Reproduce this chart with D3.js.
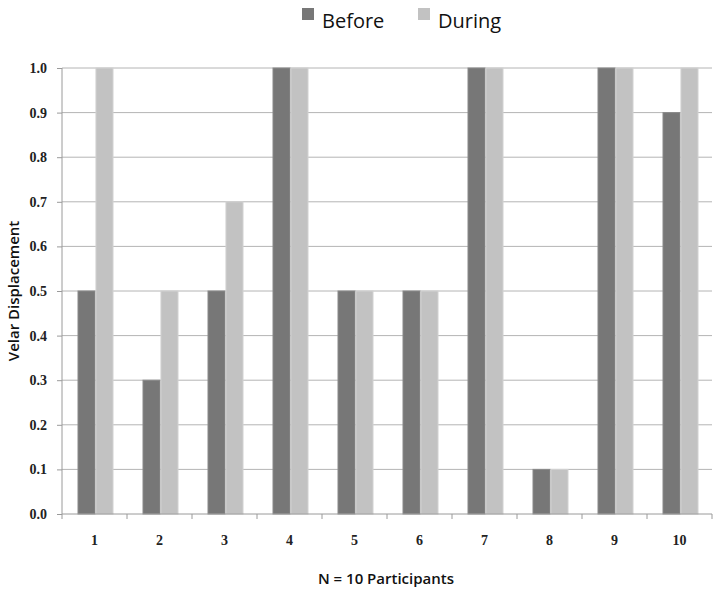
<!DOCTYPE html>
<html>
<head>
<meta charset="utf-8">
<script src="https://cdn.jsdelivr.net/npm/d3@7"></script>
<style>
  body { margin: 0; background: #fff; }
  .tick text { font-family: "Liberation Serif", serif; font-weight: bold; font-size: 14px; fill: #222; }
</style>
</head>
<body>
<script>
var participants = ["1", "2", "3", "4", "5", "6", "7", "8", "9", "10"];
var before = [0.5, 0.3, 0.5, 1.0, 0.5, 0.5, 1.0, 0.1, 1.0, 0.9];
var during = [1.0, 0.5, 0.7, 1.0, 0.5, 0.5, 1.0, 0.1, 1.0, 1.0];
var seriesNames = ["Before", "During"];
var yTicks = [0, 0.1, 0.2, 0.3, 0.4, 0.5, 0.6, 0.7, 0.8, 0.9, 1.0];

var colors = ["#777777", "#c2c2c2"];

var margin = { top: 68, right: 5, bottom: 82, left: 62 },
  width = 717 - margin.left - margin.right,
  height = 596 - margin.top - margin.bottom;

var svg = d3.select("body").append("svg")
  .attr("width", 717)
  .attr("height", 596);

var content = svg.append("g")
  .attr("transform", "translate(" + margin.left + "," + margin.top + ")");

var x = d3.scaleBand().domain(participants).range([0, width]);
var xInner = d3.scaleBand().domain(seriesNames).range([16, 51]).paddingInner(0.05);
var y = d3.scaleLinear().domain([0, 1]).range([height, 0]);

// grid
content.append("g")
  .selectAll("line")
  .data(yTicks.slice(1))
  .enter()
  .append("line")
  .attr("x1", 0)
  .attr("x2", width)
  .attr("y1", function (d) { return y(d); })
  .attr("y2", function (d) { return y(d); })
  .attr("stroke", "#b4b4b4")
  .attr("stroke-width", 1);

var rows = participants.map(function (p, i) {
  return { p: p, values: [before[i], during[i]] };
});

var groups = content.selectAll(".grp")
  .data(rows)
  .enter()
  .append("g")
  .attr("transform", function (d) { return "translate(" + x(d.p) + ",0)"; });

groups.selectAll("rect")
  .data(function (d) {
    return d.values.map(function (v, j) { return { name: seriesNames[j], v: v, j: j }; });
  })
  .enter()
  .append("rect")
  .attr("x", function (d) { return xInner(d.name); })
  .attr("y", function (d) { return y(d.v); })
  .attr("width", xInner.bandwidth())
  .attr("height", function (d) { return height - y(d.v); })
  .attr("fill", function (d) { return colors[d.j]; })
  .attr("stroke", function (d) { return d.j == 0 ? "#8a8a8a" : "#d2d2d2"; })
  .attr("stroke-width", 1);

// y axis
var yAxis = d3.axisLeft(y).tickValues(yTicks).tickSize(5).tickPadding(10)
  .tickFormat(d3.format(".1f"));
var yg = content.append("g").call(yAxis);
yg.select(".domain").attr("stroke", "#9a9a9a").attr("d", "M0," + height + "V0");
yg.selectAll(".tick line").attr("stroke", "#9a9a9a");

// x axis
var xAxis = d3.axisBottom(x).tickSize(0).tickPadding(21);
var xg = content.append("g")
  .attr("transform", "translate(0," + height + ")")
  .call(xAxis);
xg.select(".domain").attr("stroke", "#9a9a9a").attr("d", "M0,0H" + width);
xg.selectAll(".bound")
  .data(participants)
  .enter()
  .append("line")
  .attr("x1", function (d) { return x(d) + x.bandwidth(); })
  .attr("x2", function (d) { return x(d) + x.bandwidth(); })
  .attr("y1", 0)
  .attr("y2", 5)
  .attr("stroke", "#9a9a9a");
xg.append("line").attr("x1", 0).attr("x2", 0).attr("y1", 0).attr("y2", 5).attr("stroke", "#9a9a9a");

// titles
svg.append("text")
  .attr("transform", "translate(19," + (margin.top + height / 2) + ") rotate(-90)")
  .attr("text-anchor", "middle")
  .style("font-family", "'Open Sans', sans-serif")
  .style("font-weight", "600")
  .style("font-size", "15px")
  .attr("fill", "#111")
  .text("Velar Displacement");

svg.append("text")
  .attr("x", 386)
  .attr("y", 584)
  .attr("text-anchor", "middle")
  .style("font-family", "'Open Sans', sans-serif")
  .style("font-weight", "600")
  .style("font-size", "15px")
  .attr("fill", "#111")
  .text("N = 10 Participants");

// legend
var legendX = [302, 418];
var legend = svg.selectAll(".leg")
  .data(seriesNames)
  .enter()
  .append("g")
  .attr("transform", function (d, i) { return "translate(" + legendX[i] + ",8)"; });

legend.append("rect")
  .attr("width", 12)
  .attr("height", 12)
  .attr("fill", function (d, i) { return colors[i]; });

legend.append("text")
  .attr("x", 20)
  .attr("y", 13)
  .attr("dy", "0.35em")
  .style("font-family", "'Open Sans', sans-serif")
  .style("font-size", "20px")
  .attr("fill", "#111")
  .text(function (d) { return d; });
</script>
</body>
</html>
